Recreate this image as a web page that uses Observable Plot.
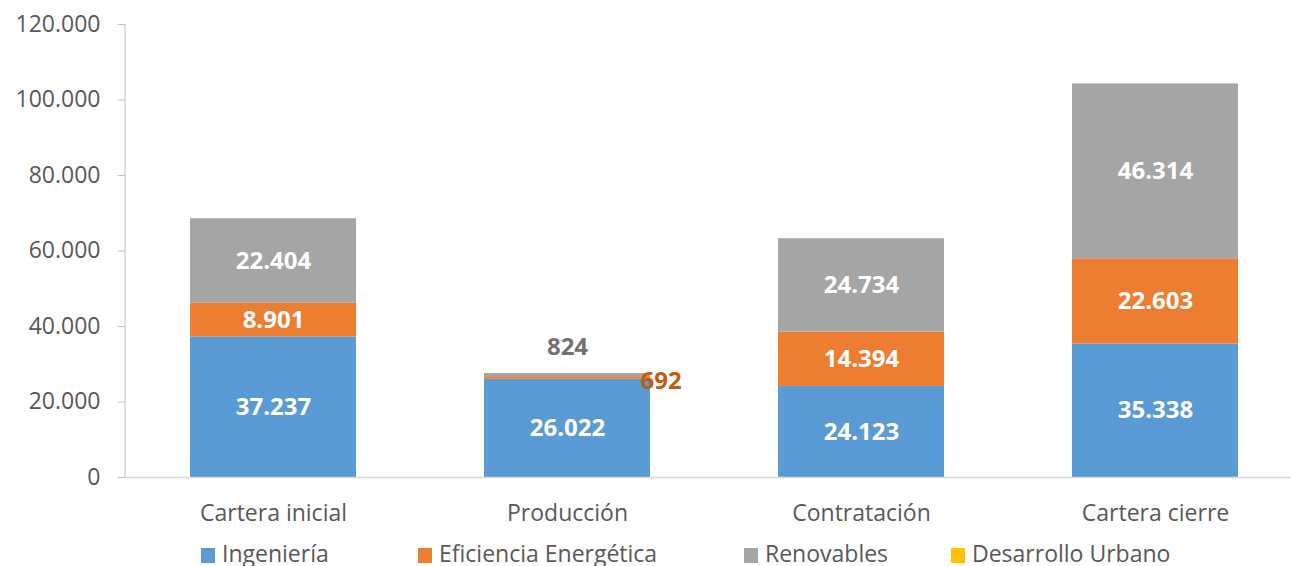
<!DOCTYPE html>
<html><head><meta charset="utf-8">
<script src="https://cdn.jsdelivr.net/npm/d3@7"></script>
<script src="https://cdn.jsdelivr.net/npm/@observablehq/plot@0.6"></script>
<style>
html,body{margin:0;background:#fff;font-family:"Open Sans",sans-serif;overflow:hidden}
#legend{display:flex;height:31px;line-height:31px;padding-left:201px;padding-top:3px;color:#595959;font-size:23px}
.item{display:flex;align-items:center;white-space:nowrap}
.item:nth-child(1){width:217px}
.item:nth-child(2){width:326px}
.item:nth-child(3){width:207px}
.sw{width:14px;height:15px;margin-right:7px;margin-top:4px}
</style></head><body>
<div id="chart"></div><div id="legend"></div>
<script>
const categories = ["Cartera inicial", "Producción", "Contratación", "Cartera cierre"];
const seriesNames = ["Ingeniería", "Eficiencia Energética", "Renovables", "Desarrollo Urbano"];
const ingenieria = [37237, 26022, 24123, 35338];
const eficiencia = [8901, 692, 14394, 22603];
const renovables = [22404, 824, 24734, 46314];
const desarrollo = [0, 0, 0, 0];
const seriesColors = ["#5B9BD5", "#ED7D31", "#A5A5A5", "#FFC000"];
const yTicks = [0, 20000, 40000, 60000, 80000, 100000, 120000];

const seriesValues = [ingenieria, eficiencia, renovables, desarrollo];
const rows = [];
categories.forEach((cat, i) => {
  seriesNames.forEach((s, j) => rows.push({cat, series: s, value: seriesValues[j][i]}));
});

const locale = d3.formatLocale({decimal: ",", thousands: ".", grouping: [3], currency: ["", "€"]});
const fmt = locale.format(",d");

const axisLine = (index, scales, values, dimensions) => {
  const g = d3.create("svg:g");
  g.append("line")
    .attr("x1", dimensions.marginLeft).attr("x2", dimensions.marginLeft)
    .attr("y1", scales.y(0)).attr("y2", scales.y(120000))
    .attr("stroke", "#bfbfbf").attr("stroke-width", 1);
  return g.node();
};

const chart = Plot.plot({
  width: 1291,
  height: 535,
  marginLeft: 125,
  marginRight: 0,
  marginTop: 24,
  marginBottom: 58,
  style: {fontFamily: "Open Sans, sans-serif", fontSize: "23px", color: "#595959", background: "#fff"},
  x: {domain: categories, range: [125.5, 1302], paddingInner: 0.435, paddingOuter: 0.2175},
  y: {domain: [0, 120000]},
  color: {domain: seriesNames, range: seriesColors},
  marks: [
    Plot.barY(rows, {x: "cat", y: "value", fill: "series"}),
    Plot.ruleY([0], {stroke: "#d9d9d9", strokeWidth: 1.5}),
    axisLine,
    Plot.axisY({ticks: yTicks, tickFormat: fmt, tickSize: 7, tickPadding: 18, stroke: "#bfbfbf", fill: "#595959", label: null}),
    Plot.axisX({tickSize: 0, tickPadding: 27, fill: "#595959", label: null}),
    Plot.text(rows, Plot.stackY({x: "cat", y: "value", z: "series",
      text: d => d.value > 5000 ? fmt(d.value) : null,
      fill: "white", fontWeight: "bold", fontSize: 24})),
    Plot.text(rows, Plot.stackY2({x: "cat", y: "value", z: "series",
      text: d => d.series === "Renovables" && d.value > 0 && d.value < 5000 ? fmt(d.value) : null,
      fill: "#767171", fontWeight: "bold", fontSize: 24, dy: -26})),
    Plot.text(rows, Plot.stackY({x: "cat", y: "value", z: "series",
      text: d => d.series === "Eficiencia Energética" && d.value > 0 && d.value < 5000 ? fmt(d.value) : null,
      fill: "#C55A11", fontWeight: "bold", fontSize: 24, textAnchor: "start", dx: 73, dy: 3}))
  ]
});
document.getElementById("chart").append(chart);

const legend = d3.select("#legend");
seriesNames.forEach((s, i) => {
  const it = legend.append("div").attr("class", "item");
  it.append("div").attr("class", "sw").style("background", seriesColors[i]);
  it.append("span").text(s);
});
</script>
</body></html>
